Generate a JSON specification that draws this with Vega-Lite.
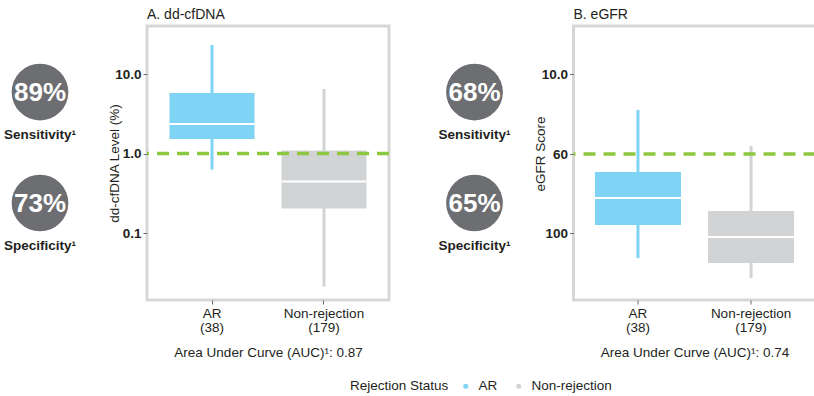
{
  "padding": {"left": 0, "top": 6, "right": 0, "bottom": 0},
  "config": {
    "font": "Liberation Sans",
    "view": {"stroke": "#d7d7d8", "strokeWidth": 3},
    "axis": {
      "labelFontSize": 13.5,
      "titleFontSize": 13.5,
      "titleFontWeight": "normal",
      "labelColor": "#231f20",
      "titleColor": "#231f20",
      "tickColor": "#6d6e71",
      "tickSize": 4,
      "domain": false,
      "grid": false,
      "labelPadding": 2
    },
    "title": {"fontSize": 14, "fontWeight": "normal", "color": "#231f20", "offset": 4},
    "legend": {"labelFontSize": 13.5, "titleFontSize": 13.5, "titleFontWeight": "normal", "labelColor": "#231f20", "titleColor": "#231f20"}
  },
  "datasets": {
    "ddcfdna": [
      {"status": "AR", "group": "AR\n(38)", "whisker_low": 0.63, "whisker_high": 23.2, "box_low": 1.52, "box_high": 5.77, "median": 2.35},
      {"status": "Non-rejection", "group": "Non-rejection\n(179)", "whisker_low": 0.0212, "whisker_high": 6.47, "box_low": 0.203, "box_high": 1.09, "median": 0.444}
    ],
    "egfr": [
      {"status": "AR", "group": "AR\n(38)", "whisker_low": 32.5, "whisker_high": 112.7, "box_low": 69.1, "box_high": 95.9, "median": 82.3},
      {"status": "Non-rejection", "group": "Non-rejection\n(179)", "whisker_low": 55, "whisker_high": 122.8, "box_low": 88.9, "box_high": 115.2, "median": 102}
    ],
    "thrA": [{"threshold": 1}],
    "thrB": [{"threshold": 60}],
    "metricsA": [
      {"metric": "Sensitivity¹", "value": "89%", "row": 1},
      {"metric": "Specificity¹", "value": "73%", "row": 2}
    ],
    "metricsB": [
      {"metric": "Sensitivity¹", "value": "68%", "row": 1},
      {"metric": "Specificity¹", "value": "65%", "row": 2}
    ]
  },
  "spacing": 41.5,
  "bounds": "full",
  "resolve": {"scale": {"x": "independent", "y": "independent", "color": "shared"}, "legend": {"color": "shared"}},
  "hconcat": [
    {
      "spacing": 67,
      "bounds": "flush",
      "resolve": {"scale": {"x": "independent", "y": "independent", "color": "shared"}},
      "hconcat": [
        {
          "width": 80,
          "height": 274,
          "view": {"stroke": null},
          "data": {"name": "metricsA"},
          "encoding": {
            "y": {"field": "row", "type": "quantitative", "scale": {"domain": [0.405, 2.874], "reverse": true, "nice": false, "zero": false}, "axis": null}
          },
          "layer": [
            {"mark": {"type": "point", "shape": "circle", "filled": true, "size": 3217, "color": "#6d6e71", "opacity": 1, "strokeWidth": 0}},
            {"mark": {"type": "text", "color": "#ffffff", "fontSize": 26, "fontWeight": "bold", "baseline": "middle", "dy": 1}, "encoding": {"text": {"field": "value"}}},
            {"mark": {"type": "text", "color": "#231f20", "fontSize": 13.5, "fontWeight": "bold", "baseline": "middle", "dy": 43}, "encoding": {"text": {"field": "metric"}}}
          ]
        },
        {
          "width": 242,
          "height": 274,
          "title": {"text": "A. dd-cfDNA", "anchor": "start", "frame": "group"},
          "data": {"name": "ddcfdna"},
          "layer": [
            {
              "mark": {"type": "rule", "strokeWidth": 3},
              "encoding": {
                "x": {"field": "group", "type": "nominal", "sort": null, "scale": {"paddingInner": 0.241, "paddingOuter": 0.201}, "axis": {"title": "Area Under Curve (AUC)¹: 0.87", "labelExpr": "split(datum.label, '\\n')", "labelAngle": 0, "labelLineHeight": 14, "titlePadding": 12}},
                "y": {"field": "whisker_low", "type": "quantitative", "scale": {"type": "log", "domain": [0.01436, 40.2], "nice": false}, "axis": {"title": "dd-cfDNA Level (%)", "values": [0.1, 1, 10], "format": ".1f", "labelFontWeight": "bold", "titleX": -26}},
                "y2": {"field": "whisker_high"},
                "color": {"field": "status", "type": "nominal", "scale": {"domain": ["AR", "Non-rejection"], "range": ["#7fd3f4", "#d1d3d4"]}, "legend": {"title": "Rejection Status", "orient": "none", "legendX": 350, "legendY": 353, "direction": "horizontal", "titleOrient": "left", "symbolType": "circle", "symbolSize": 25, "symbolStrokeWidth": 0, "symbolOpacity": 1, "titlePadding": 10, "columnPadding": 14, "labelOffset": 6}}
              }
            },
            {
              "mark": {"type": "bar"},
              "encoding": {
                "x": {"field": "group", "type": "nominal", "sort": null},
                "y": {"field": "box_low", "type": "quantitative"},
                "y2": {"field": "box_high"},
                "color": {"field": "status", "type": "nominal"}
              }
            },
            {
              "mark": {"type": "bar", "color": "#ffffff", "stroke": "#ffffff", "strokeWidth": 2},
              "encoding": {
                "x": {"field": "group", "type": "nominal", "sort": null},
                "y": {"field": "median", "type": "quantitative"},
                "y2": {"field": "median"}
              }
            },
            {
              "data": {"name": "thrA"},
              "mark": {"type": "rule", "color": "#8dc63f", "strokeWidth": 3.5, "strokeDash": [12, 8]},
              "encoding": {"y": {"field": "threshold", "type": "quantitative"}}
            }
          ]
        }
      ]
    },
    {
      "spacing": 59,
      "bounds": "flush",
      "resolve": {"scale": {"x": "independent", "y": "independent", "color": "shared"}},
      "hconcat": [
        {
          "width": 80,
          "height": 274,
          "view": {"stroke": null},
          "data": {"name": "metricsB"},
          "encoding": {
            "y": {"field": "row", "type": "quantitative", "scale": {"domain": [0.405, 2.874], "reverse": true, "nice": false, "zero": false}, "axis": null}
          },
          "layer": [
            {"mark": {"type": "point", "shape": "circle", "filled": true, "size": 3217, "color": "#6d6e71", "opacity": 1, "strokeWidth": 0}},
            {"mark": {"type": "text", "color": "#ffffff", "fontSize": 26, "fontWeight": "bold", "baseline": "middle", "dy": 1}, "encoding": {"text": {"field": "value"}}},
            {"mark": {"type": "text", "color": "#231f20", "fontSize": 13.5, "fontWeight": "bold", "baseline": "middle", "dy": 43}, "encoding": {"text": {"field": "metric"}}}
          ]
        },
        {
          "width": 242,
          "height": 274,
          "title": {"text": "B. eGFR", "anchor": "start", "frame": "group"},
          "data": {"name": "egfr"},
          "layer": [
            {
              "mark": {"type": "rule", "strokeWidth": 3},
              "encoding": {
                "x": {"field": "group", "type": "nominal", "sort": null, "scale": {"paddingInner": 0.239, "paddingOuter": 0.19}, "axis": {"title": "Area Under Curve (AUC)¹: 0.74", "labelExpr": "split(datum.label, '\\n')", "labelAngle": 0, "labelLineHeight": 14, "titlePadding": 12}},
                "y": {"field": "whisker_low", "type": "quantitative", "scale": {"type": "linear", "domain": [10, 60, 100], "range": [48, 128, 207], "nice": false, "zero": false}, "axis": {"title": "eGFR Score", "values": [10, 60, 100], "labelExpr": "datum.value === 10 ? '10.0' : datum.label", "labelFontWeight": "bold", "titleX": -26}},
                "y2": {"field": "whisker_high"},
                "color": {"field": "status", "type": "nominal", "scale": {"domain": ["AR", "Non-rejection"], "range": ["#7fd3f4", "#d1d3d4"]}, "legend": {"title": "Rejection Status", "orient": "none", "legendX": 350, "legendY": 353, "direction": "horizontal", "titleOrient": "left", "symbolType": "circle", "symbolSize": 25, "symbolStrokeWidth": 0, "symbolOpacity": 1, "titlePadding": 10, "columnPadding": 14, "labelOffset": 6}}
              }
            },
            {
              "mark": {"type": "bar"},
              "encoding": {
                "x": {"field": "group", "type": "nominal", "sort": null},
                "y": {"field": "box_low", "type": "quantitative"},
                "y2": {"field": "box_high"},
                "color": {"field": "status", "type": "nominal"}
              }
            },
            {
              "mark": {"type": "bar", "color": "#ffffff", "stroke": "#ffffff", "strokeWidth": 2},
              "encoding": {
                "x": {"field": "group", "type": "nominal", "sort": null},
                "y": {"field": "median", "type": "quantitative"},
                "y2": {"field": "median"}
              }
            },
            {
              "data": {"name": "thrB"},
              "mark": {"type": "rule", "color": "#8dc63f", "strokeWidth": 3.5, "strokeDash": [12, 8]},
              "encoding": {"y": {"field": "threshold", "type": "quantitative"}}
            }
          ]
        }
      ]
    }
  ]
}
